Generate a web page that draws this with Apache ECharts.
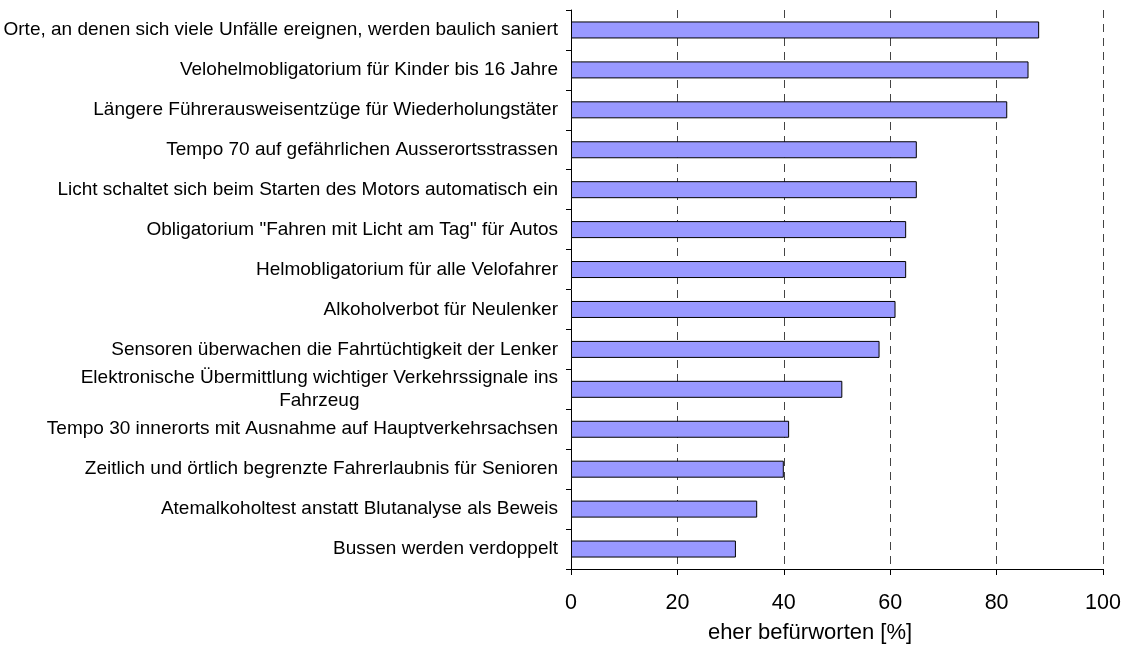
<!DOCTYPE html>
<html>
<head>
<meta charset="utf-8">
<script src="https://cdn.jsdelivr.net/npm/echarts@6/dist/echarts.min.js"></script>
<style>
  html, body { margin: 0; padding: 0; background: #fff; }
  #chart { width: 1127px; height: 649px; }
</style>
</head>
<body>
<div id="chart"></div>
<script>
// categories, top to bottom
const categories = [
  'Orte, an denen sich viele Unfälle ereignen, werden baulich saniert',
  'Velohelmobligatorium für Kinder bis 16 Jahre',
  'Längere Führerausweisentzüge für Wiederholungstäter',
  'Tempo 70 auf gefährlichen Ausserortsstrassen',
  'Licht schaltet sich beim Starten des Motors automatisch ein',
  'Obligatorium "Fahren mit Licht am Tag" für Autos',
  'Helmobligatorium für alle Velofahrer',
  'Alkoholverbot für Neulenker',
  'Sensoren überwachen die Fahrtüchtigkeit der Lenker',
  'Elektronische Übermittlung wichtiger Verkehrssignale ins\nFahrzeug',
  'Tempo 30 innerorts mit Ausnahme auf Hauptverkehrsachsen',
  'Zeitlich und örtlich begrenzte Fahrerlaubnis für Senioren',
  'Atemalkoholtest anstatt Blutanalyse als Beweis',
  'Bussen werden verdoppelt'
];
const approve = [88, 86, 82, 65, 65, 63, 63, 61, 58, 51, 41, 40, 35, 31];
const xTicks = [0, 20, 40, 60, 80, 100];

const font = 'Arial, "Liberation Sans", sans-serif';
const chart = echarts.init(document.getElementById('chart'));

chart.setOption({
  animation: false,
  backgroundColor: '#fff',
  grid: { left: 571, right: 24, top: 10, bottom: 76 },
  xAxis: {
    type: 'value',
    min: xTicks[0],
    max: xTicks[xTicks.length - 1],
    interval: 20,
    name: 'eher befürworten [%]',
    nameLocation: 'middle',
    nameGap: 53,
    nameTextStyle: { fontFamily: font, fontSize: 22, color: '#000', padding: [0, 54, 0, 0] },
    axisLine: { show: true, lineStyle: { color: '#000', width: 1 } },
    axisTick: { show: true, length: 6, lineStyle: { color: '#000' } },
    axisLabel: { fontFamily: font, fontSize: 21.5, color: '#000', margin: 23 },
    splitLine: { show: true, lineStyle: { color: '#444', type: [8, 6], width: 1 } }
  },
  yAxis: {
    type: 'category',
    inverse: true,
    data: categories,
    axisLine: { show: true, lineStyle: { color: '#000', width: 1 } },
    axisTick: { show: true, length: 5, alignWithLabel: false, lineStyle: { color: '#000' } },
    axisLabel: {
      fontFamily: font, fontSize: 19, color: '#000', margin: 13, lineHeight: 23,
      formatter: (v) => v.indexOf('\n') < 0 ? v
        : v.split('\n').map((s) => '{c|' + s + '}').join('\n'),
      rich: { c: { align: 'center', fontFamily: font, fontSize: 19, color: '#000', lineHeight: 23 } }
    },
    splitLine: { show: false }
  },
  series: [{
    type: 'bar',
    data: approve,
    barWidth: 17,
    itemStyle: { color: '#9999ff', borderColor: '#000', borderWidth: 1 }
  }]
});
</script>
</body>
</html>
